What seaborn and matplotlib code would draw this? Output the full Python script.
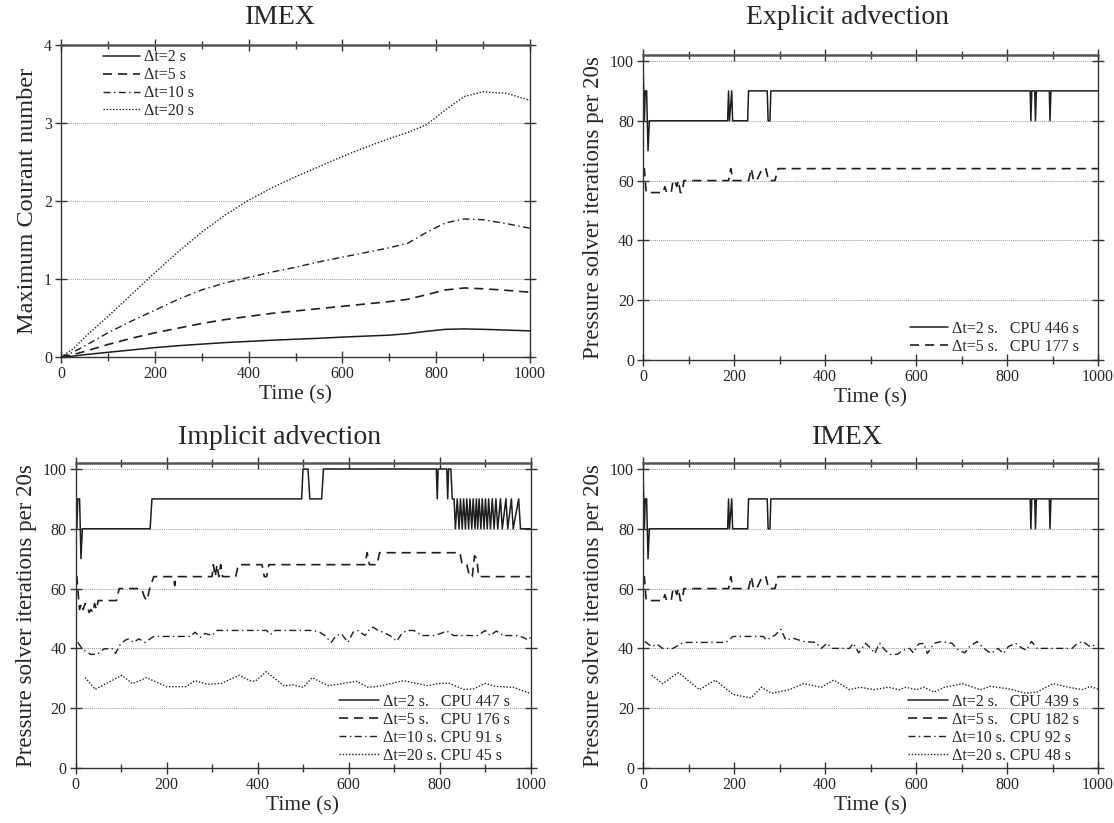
import numpy as np
import pandas as pd
import matplotlib
matplotlib.use("Agg")
import matplotlib.pyplot as plt
from matplotlib.ticker import MultipleLocator
import seaborn as sns

# ---------------- Maximum Courant number, IMEX ----------------
courant_t = [0, 25, 50, 100, 150, 200, 250, 300, 350, 400, 450, 500, 550, 600,
             650, 700, 740, 780, 820, 860, 900, 950, 1000]
courant_dt2 = [0, 0.01, 0.03, 0.06, 0.09, 0.12, 0.145, 0.165, 0.185, 0.20, 0.215,
               0.228, 0.24, 0.255, 0.268, 0.28, 0.30, 0.33, 0.355, 0.36, 0.355,
               0.345, 0.335]
courant_dt5 = [0, 0.03, 0.07, 0.16, 0.24, 0.31, 0.37, 0.43, 0.48, 0.52, 0.56, 0.59,
               0.62, 0.65, 0.68, 0.71, 0.74, 0.80, 0.86, 0.885, 0.875, 0.855, 0.83]
courant_dt10 = [0, 0.06, 0.14, 0.31, 0.46, 0.60, 0.74, 0.86, 0.95, 1.02, 1.09, 1.15,
                1.22, 1.28, 1.34, 1.40, 1.46, 1.60, 1.72, 1.77, 1.76, 1.71, 1.65]
courant_dt20 = [0, 0.10, 0.25, 0.52, 0.80, 1.08, 1.35, 1.60, 1.82, 2.01, 2.17, 2.31,
                2.44, 2.57, 2.69, 2.80, 2.88, 2.98, 3.17, 3.34, 3.40, 3.38, 3.29]

# ------------- Pressure solver iterations per 20 s -------------
# Explicit advection (the IMEX runs with dt=2 s and dt=5 s give the same counts)
expl_dt2_t = [0, 3, 5, 8, 11, 14, 186, 188, 190, 195, 197, 230, 232, 273, 275, 279,
              281, 851, 852.5, 854.5, 861, 862.5, 864.5, 893, 894.5, 896.5, 1000]
expl_dt2_v = [100, 80, 90, 90, 70, 80, 80, 90, 80, 90, 80, 80, 90, 90, 80, 80,
              90, 90, 80, 90, 90, 80, 90, 90, 80, 90, 90]
expl_dt5_t = [0, 3, 7, 44, 48, 52, 62, 66, 70, 74, 78, 82, 86, 90, 188, 193, 198,
              232, 238, 243, 250, 256, 262, 270, 276, 290, 297, 1000]
expl_dt5_v = [64, 64, 56, 56, 58, 56, 56, 60, 60, 58, 60, 56, 56, 60, 60, 64, 60,
              60, 64, 60, 60, 62, 64, 64, 60, 60, 64, 64]

# Implicit advection
impl_dt2_t = [0, 3, 5, 9, 12, 15, 164, 168, 497, 500, 511, 515, 541, 545, 793, 795,
              797, 816, 818, 820, 825, 828, 832, 835, 839, 843, 846, 850, 853, 857,
              860, 864, 867, 871, 874, 878, 881, 884, 887, 891, 894, 898, 901, 905,
              908, 912, 916, 920, 924, 928, 934, 938, 946, 950, 958, 962, 974, 978,
              1000]
impl_dt2_v = [100, 80, 90, 90, 70, 80, 80, 90, 90, 100, 100, 90, 90, 100, 100, 90,
              100, 100, 90, 100, 100, 90, 90, 80, 90, 80, 90, 80, 90, 80,
              90, 80, 90, 80, 90, 80, 90, 80, 90, 80, 90, 80, 90, 80,
              90, 80, 90, 80, 90, 80, 90, 80, 90, 80, 90, 80, 90, 80,
              80]
impl_dt5_t = [0, 3, 6, 9, 13, 17, 21, 26, 30, 34, 38, 42, 46, 50, 90, 96, 145, 152,
              157, 163, 172, 215, 218, 221, 300, 303, 307, 311, 315, 319, 323, 352,
              358, 410, 415, 420, 425, 636, 641, 646, 663, 668, 845, 850, 860, 866,
              872, 877, 882, 886, 1000]
impl_dt5_v = [64, 64, 58, 53, 55, 53, 55, 54, 52, 53, 52, 55, 53, 56, 56, 60, 60, 57,
              56, 60, 64, 64, 61, 64, 64, 68, 64, 68, 64, 68, 64, 64,
              68, 68, 64, 64, 68, 68, 72, 68, 68, 72, 72, 68, 68, 64,
              64, 71, 70, 64, 64]
impl_dt10_t = [5, 15, 33, 48, 62, 80, 88, 99, 110, 117, 128, 139, 153, 164, 172, 252,
               263, 274, 285, 300, 311, 420, 428, 439, 522, 537, 548, 562, 573, 584,
               599, 610, 621, 636, 647, 654, 665, 676, 691, 706, 717, 728, 743, 761,
               787, 801, 816, 831, 860, 885, 900, 911, 925, 940, 969, 984, 995, 1000]
impl_dt10_v = [42, 39.8, 38, 38, 39.8, 40, 38.3, 41.5, 42.8, 43.2, 42, 43.2, 42, 43.2,
               44, 44, 45.4, 43.7, 45, 44.3, 46, 46, 44.6, 46, 46, 45.4, 44.3, 42,
               44.3, 44.9, 42, 45.4, 46, 44.3, 46.5, 47.1, 46, 45.4, 44.3, 42.4, 44.9,
               46, 46, 44.3, 44.3, 44.9, 45.8, 44.3, 44.3, 44.3, 46, 44.3, 45.8, 44.3,
               44.3, 43.7, 42.8, 43.7]
impl_dt20_t = [21, 43, 102, 125, 156, 200, 243, 262, 290, 321, 360, 383, 395, 419,
               458, 477, 501, 520, 556, 587, 618, 642, 665, 696, 720, 775, 798, 822,
               853, 876, 900, 923, 962, 998]
impl_dt20_v = [30.3, 26.3, 31, 28.2, 30.2, 27.2, 27.2, 29.2, 28, 28.3, 31, 29.2, 29,
               32.2, 27.5, 27.8, 27, 30.2, 27.5, 28.3, 29, 27, 27.3, 28.3, 29.2, 27.5,
               28.3, 28.3, 26.3, 26.5, 28.3, 27.3, 27, 25]

# IMEX
imex_dt10_t = [4, 19, 31, 43, 66, 85, 97, 182, 198, 264, 272, 291, 303, 314, 330,
               353, 380, 392, 404, 416, 454, 462, 474, 489, 501, 509, 520, 532, 543,
               559, 571, 586, 594, 606, 617, 625, 640, 656, 679, 694, 707, 718, 734,
               749, 765, 780, 792, 803, 819, 831, 842, 854, 866, 943, 955, 967, 982,
               1000]
imex_dt10_v = [42.3, 40.6, 41.4, 40, 40, 41.7, 42, 42, 44, 44, 42.8, 44.5, 46.4, 42.8,
               43.4, 42.3, 42, 40, 41.7, 40, 40, 41.7, 38.5, 41.7, 40, 38.3, 41.7,
               39.4, 38, 38, 39.4, 40, 38.5, 41.5, 41.7, 38.3, 41.7, 42.3, 41.7, 39.4,
               38.5, 40.6, 42.3, 40, 38.3, 40, 38.3, 40.6, 41.7, 40.3, 39.4, 42.3, 40,
               40, 41.7, 42.3, 40.6, 41.4]
imex_dt20_t = [19, 43, 78, 124, 159, 198, 237, 260, 283, 322, 353, 392, 419, 454,
               477, 508, 540, 563, 578, 601, 617, 640, 663, 702, 741, 764, 803, 842,
               866, 901, 935, 967, 982, 1000]
imex_dt20_v = [31, 28.2, 31.9, 26.2, 29.4, 24.6, 23.4, 27, 25, 26.2, 28.2, 27, 29.4,
               26.2, 27, 26.2, 27, 26.2, 27, 26.2, 27, 25.4, 27, 28.2, 26.2, 27.3,
               26.5, 25, 25.4, 28.2, 27, 26.2, 27.3, 26.4]

courant_labels = ["Δt=2 s", "Δt=5 s", "Δt=10 s", "Δt=20 s"]
expl_labels = ["Δt=2 s.   CPU 446 s", "Δt=5 s.   CPU 177 s"]
impl_labels = ["Δt=2 s.   CPU 447 s", "Δt=5 s.   CPU 176 s",
               "Δt=10 s. CPU 91 s", "Δt=20 s. CPU 45 s"]
imex_labels = ["Δt=2 s.   CPU 439 s", "Δt=5 s.   CPU 182 s",
               "Δt=10 s. CPU 92 s", "Δt=20 s. CPU 48 s"]

# ---------------- styling ----------------
sns.set_theme(style="ticks")
plt.rcParams["font.family"] = ["Liberation Serif", "DejaVu Serif"]
plt.rcParams["axes.linewidth"] = 1.0

INK = "#1e1e1e"
STYLES = [
    dict(linestyle="-", linewidth=1.1),
    dict(linestyle=(0, (5.5, 3.5)), linewidth=1.2),
    dict(linestyle=(0, (5, 2.5, 1, 2.5)), linewidth=1.0),
    dict(linestyle=(0, (1, 1.3)), linewidth=1.0),
]
LEG = dict(frameon=False, fontsize=11.5, handletextpad=0.25, labelspacing=0.12,
           borderpad=0.2)

W, H = 1114, 823
fig = plt.figure(figsize=(W / 100, H / 100), dpi=100)


def px_axes(left, right, top, bottom):
    return fig.add_axes([left / W, 1 - bottom / H, (right - left) / W, (bottom - top) / H])


def draw(ax, series, labels):
    for (t, v), lab, st in zip(series, labels, STYLES):
        sns.lineplot(x=t, y=v, ax=ax, estimator=None, sort=False, color=INK,
                     label=lab, **st)


def frame(ax, ymax, ystep, ylabel, ylab_size=16.5):
    ax.set_xlim(0, 1000)
    ax.set_ylim(0, ymax)
    ax.xaxis.set_major_locator(MultipleLocator(200))
    ax.xaxis.set_minor_locator(MultipleLocator(100))
    ax.yaxis.set_major_locator(MultipleLocator(ystep))
    ax.tick_params(which="both", direction="inout", top=True, right=True,
                   labeltop=False, labelright=False, color="#333333")
    ax.tick_params(which="major", length=9, width=1.0, labelsize=11.5, pad=2)
    ax.tick_params(which="minor", length=6, width=1.0)
    ax.yaxis.grid(True, linestyle=(0, (1, 1)), color="#9a9a9a", linewidth=0.7)
    ax.xaxis.grid(False)
    for side in ["left", "right", "bottom"]:
        ax.spines[side].set_color("#333333")
        ax.spines[side].set_linewidth(1.0)
    ax.spines["top"].set_color("#555555")
    ax.spines["top"].set_linewidth(1.8)
    ax.set_xlabel("Time (s)", fontsize=15.5, labelpad=2)
    ax.set_ylabel(ylabel, fontsize=ylab_size, labelpad=4)


def title(text, xc, yc):
    fig.text(xc / W, 1 - yc / H, text, fontsize=20, ha="center", va="center")


ylab_iter = "Pressure solver iterations per 20s"

# top-left: Courant number
ax1 = px_axes(61, 530, 45, 357)
draw(ax1, [(courant_t, courant_dt2), (courant_t, courant_dt5),
           (courant_t, courant_dt10), (courant_t, courant_dt20)], courant_labels)
frame(ax1, 4, 1, "Maximum Courant number", ylab_size=17.5)
ax1.legend(loc="upper left", bbox_to_anchor=(0.065, 1.022), handlelength=2.35, **LEG)
title("IMEX", 280, 17)

# top-right: explicit advection
ax2 = px_axes(643, 1098, 55, 360)
draw(ax2, [(expl_dt2_t, expl_dt2_v), (expl_dt5_t, expl_dt5_v)], expl_labels)
frame(ax2, 102, 20, ylab_iter)
ax2.legend(loc="lower right", bbox_to_anchor=(0.982, -0.02), handlelength=2.35, **LEG)
title("Explicit advection", 847, 17)

# bottom-left: implicit advection
ax3 = px_axes(75.5, 530.5, 463, 768)
draw(ax3, [(impl_dt2_t, impl_dt2_v), (impl_dt5_t, impl_dt5_v),
           (impl_dt10_t, impl_dt10_v), (impl_dt20_t, impl_dt20_v)], impl_labels)
frame(ax3, 102, 20, ylab_iter)
ax3.legend(loc="lower right", bbox_to_anchor=(0.98, -0.022), handlelength=2.5, **LEG)
title("Implicit advection", 280, 438)

# bottom-right: IMEX
ax4 = px_axes(643, 1098, 463, 768)
draw(ax4, [(expl_dt2_t, expl_dt2_v), (expl_dt5_t, expl_dt5_v),
           (imex_dt10_t, imex_dt10_v), (imex_dt20_t, imex_dt20_v)], imex_labels)
frame(ax4, 102, 20, ylab_iter)
ax4.legend(loc="lower right", bbox_to_anchor=(0.982, -0.022), handlelength=2.5, **LEG)
title("IMEX", 847, 438)

fig.savefig("out.png", dpi=100, facecolor="white")
